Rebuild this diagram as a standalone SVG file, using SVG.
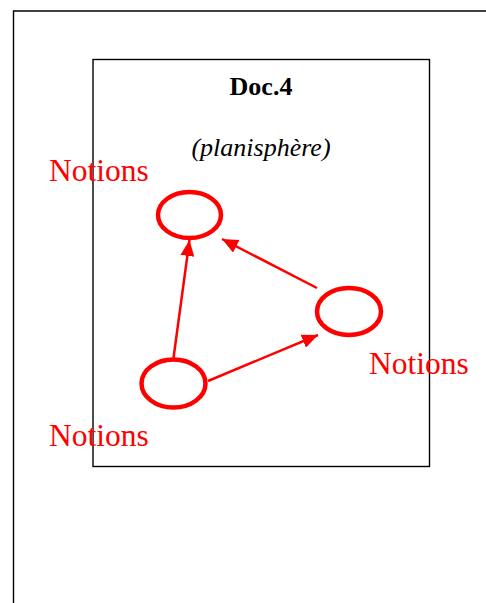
<svg xmlns="http://www.w3.org/2000/svg" width="486" height="603" viewBox="0 0 486 603">
<defs>
<style>
.frame{fill:none;stroke:#000;stroke-width:1.4}
.node{fill:none;stroke:#ff0000;stroke-width:4.5}
.edge{stroke:#ff0000;stroke-width:2.5;fill:none}
.lbl{font-family:"Liberation Serif","Times New Roman",serif;fill:#ff0000;font-size:31.5px}
.t{font-family:"Liberation Serif","Times New Roman",serif;fill:#000;font-size:26px;text-anchor:middle}
</style>
<marker id="ah" markerUnits="userSpaceOnUse" markerWidth="17" markerHeight="14" refX="16" refY="7" orient="auto">
<path d="M0,0 L16,7 L0,14 z" fill="#ff0000"/>
</marker>
</defs>
<rect width="486" height="603" fill="#fff"/>
<g id="page"><path class="frame" d="M13.5,603 V11 H486"/></g>
<g id="doc">
<rect class="frame" x="93" y="59.5" width="336.5" height="407"/>
<text class="t" x="261" y="95" font-weight="bold">Doc.4</text>
<text class="t" x="261" y="156" font-style="italic">(planisphère)</text>
</g>
<g id="connectors">
<line class="edge" x1="173.5" y1="358" x2="189.5" y2="240" marker-end="url(#ah)"/>
<line class="edge" x1="208" y1="381" x2="318" y2="335" marker-end="url(#ah)"/>
<line class="edge" x1="317" y1="288" x2="222" y2="239" marker-end="url(#ah)"/>
</g>
<g id="node-top"><ellipse class="node" cx="189.5" cy="215" rx="31.5" ry="23"/><text class="lbl" x="49" y="181">Notions</text></g>
<g id="node-right"><ellipse class="node" cx="349" cy="311.5" rx="32" ry="23.5"/><text class="lbl" x="369" y="374">Notions</text></g>
<g id="node-bottom"><ellipse class="node" cx="173.5" cy="383.5" rx="32" ry="24"/><text class="lbl" x="49" y="446">Notions</text></g>
</svg>
